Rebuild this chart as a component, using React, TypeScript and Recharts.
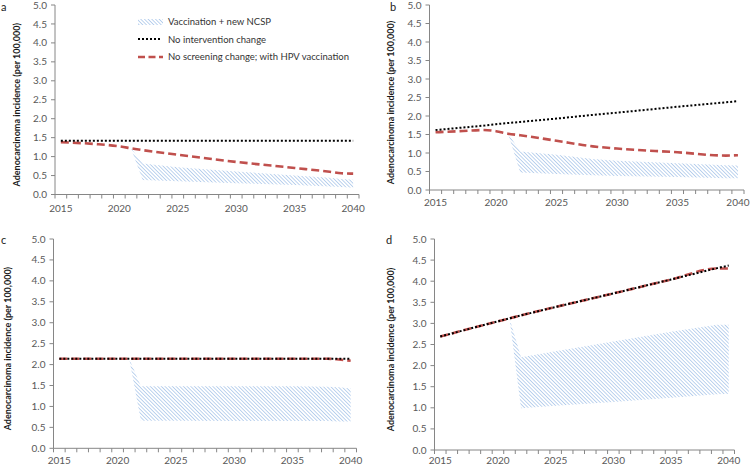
import React from 'react';
import { ComposedChart, Line, Area, XAxis, YAxis } from 'recharts';

const Y_TICKS = [0, 0.5, 1, 1.5, 2, 2.5, 3, 3.5, 4, 4.5, 5];
const ALL_YEARS = [2015, 2016, 2017, 2018, 2019, 2020, 2021, 2022, 2023, 2024, 2025, 2026, 2027, 2028, 2029, 2030, 2031, 2032, 2033, 2034, 2035, 2036, 2037, 2038, 2039, 2040];
const LABEL_YEARS = [2015, 2020, 2025, 2030, 2035, 2040];
const LEGEND_LABELS = ['Vaccination + new NCSP', 'No intervention change', 'No screening change; with HPV vaccination'];
const Y_TITLE = 'Adenocarcinoma incidence (per 100,000)';

// Panel a
const A_YEARS = [2015, 2018, 2020, 2021, 2022, 2025, 2030, 2035, 2038, 2039, 2040];
const A_NOINT = [1.42, 1.42, 1.42, 1.42, 1.42, 1.42, 1.42, 1.42, 1.42, 1.42, 1.42];
const A_RED = [1.38, 1.33, 1.27, 1.22, 1.17, 1.05, 0.86, 0.7, 0.6, 0.56, 0.55];
const A_LOW = [null, null, null, 1.22, 0.38, 0.35, 0.3, 0.25, 0.21, 0.2, 0.18];
const A_HIGH = [null, null, null, 1.22, 0.82, 0.72, 0.61, 0.5, 0.44, 0.41, 0.39];

// Panel b
const B_YEARS = [2015, 2017, 2019, 2020, 2021, 2022, 2025, 2028, 2030, 2035, 2039, 2040];
const B_NOINT = [1.62, 1.68, 1.74, 1.78, 1.81, 1.84, 1.93, 2.03, 2.09, 2.25, 2.37, 2.4];
const B_RED = [1.56, 1.59, 1.62, 1.59, 1.52, 1.48, 1.33, 1.18, 1.12, 1.02, 0.93, 0.94];
const B_LOW = [null, null, null, null, 1.52, 0.47, 0.43, 0.4, 0.38, 0.35, 0.32, 0.32];
const B_HIGH = [null, null, null, null, 1.52, 1.04, 0.95, 0.84, 0.79, 0.72, 0.67, 0.66];

// Panel c
const C_YEARS = [2015, 2020, 2021, 2022, 2025, 2030, 2035, 2038, 2039, 2040];
const C_NOINT = [2.14, 2.14, 2.14, 2.14, 2.14, 2.14, 2.14, 2.14, 2.14, 2.14];
const C_RED = [2.14, 2.14, 2.14, 2.14, 2.14, 2.14, 2.14, 2.14, 2.12, 2.09];
const C_LOW = [null, null, 2.14, 0.66, 0.66, 0.65, 0.65, 0.65, 0.64, 0.64];
const C_HIGH = [null, null, 2.14, 1.48, 1.48, 1.48, 1.48, 1.47, 1.46, 1.43];

// Panel d
const D_YEARS = [2015, 2020, 2021, 2022, 2025, 2030, 2035, 2039, 2040];
const D_NOINT = [2.69, 3.05, 3.12, 3.19, 3.39, 3.71, 4.04, 4.31, 4.37];
const D_RED = [2.69, 3.05, 3.12, 3.19, 3.39, 3.71, 4.04, 4.3, 4.3];
const D_LOW = [null, null, 3.12, 0.99, 1.05, 1.14, 1.24, 1.32, 1.33];
const D_HIGH = [null, null, 3.12, 2.2, 2.34, 2.57, 2.8, 2.97, 2.97];

const RED = '#C0504D';
const HATCH = '#8DB3E2';
const AXIS = '#868686';
const TICK_TEXT = '#595959';
const FONT = 'Lato, "Liberation Sans", sans-serif';

const X_TICKS = [...ALL_YEARS.map((y) => y - 0.5), ALL_YEARS[ALL_YEARS.length - 1] + 0.5, ...LABEL_YEARS].sort((p, q) => p - q);

type Num = number | null;

function buildRows(years: number[], noint: number[], red: number[], low: Num[], high: Num[]) {
  return years.map((yr, i) => ({
    year: yr,
    noint: noint[i],
    red: red[i],
    band: low[i] == null || high[i] == null ? null : [low[i], high[i]],
  }));
}

const makeXTick = (labelDy: number) => (props: any) => {
  const { x, y, payload } = props;
  const v = payload.value as number;
  if (v % 1 !== 0) {
    return <line x1={x} x2={x} y1={y} y2={y + 4} stroke={AXIS} strokeWidth={1} />;
  }
  if (LABEL_YEARS.includes(v)) {
    return (
      <text x={x} y={y + labelDy} textAnchor="middle" fill={TICK_TEXT} fontSize={10} fontFamily={FONT}>
        {v}
      </text>
    );
  }
  return <g />;
};

type PanelProps = {
  id: string;
  x0: number;
  y0: number;
  w: number;
  h: number;
  l: number;
  r: number;
  t: number;
  b: number;
  titleX: number;
  labelDy: number;
  rows: any[];
};

const Panel = ({ id, x0, y0, w, h, l, r, t, b, titleX, labelDy, rows }: PanelProps) => {
  const xAxisH = 20;
  const margin = { top: t - y0, right: x0 + w - r, left: 0, bottom: y0 + h - b - xAxisH };
  const ty = (t + b) / 2 - y0 + 5;
  const tx = titleX - x0;
  const TickComp = makeXTick(labelDy);
  return (
    <div style={{ position: 'absolute', left: x0, top: y0, width: w, height: h }}>
      <ComposedChart width={w} height={h} margin={margin} data={rows}>
        <defs>
          <pattern id={`hatch-${id}`} patternUnits="userSpaceOnUse" width={2.6} height={2.6} patternTransform="rotate(-45)">
            <line x1={0} y1={0} x2={0} y2={2.6} stroke={HATCH} strokeWidth={1.15} />
          </pattern>
        </defs>
        <XAxis
          dataKey="year"
          type="number"
          domain={[2014.5, 2040.5]}
          ticks={X_TICKS}
          interval={0}
          tickSize={0}
          tickMargin={0}
          tickLine={false}
          axisLine={{ stroke: AXIS }}
          tick={<TickComp />}
          height={xAxisH}
          allowDataOverflow
        />
        <YAxis
          type="number"
          domain={[0, 5]}
          ticks={Y_TICKS}
          interval={0}
          width={l - x0}
          tickSize={4}
          tickMargin={4}
          axisLine={{ stroke: AXIS }}
          tickLine={{ stroke: AXIS }}
          tick={{ fill: TICK_TEXT, fontSize: 10, fontFamily: FONT }}
          tickFormatter={(v: number) => v.toFixed(1)}
          label={{
            content: () => (
              <text
                transform={`translate(${tx},${ty}) rotate(-90)`}
                textAnchor="middle"
                dominantBaseline="central"
                fontSize={9}
                fontWeight="bold"
                fill="#1a1a1a"
                fontFamily={FONT}
              >
                {Y_TITLE}
              </text>
            ),
          }}
        />
        <Area
          dataKey="band"
          type="linear"
          stroke="none"
          fill={`url(#hatch-${id})`}
          fillOpacity={1}
          isAnimationActive={false}
          dot={false}
          activeDot={false}
        />
        <Line
          dataKey="red"
          type="monotone"
          stroke={RED}
          strokeWidth={2.6}
          strokeDasharray="8 4"
          dot={false}
          activeDot={false}
          isAnimationActive={false}
        />
        <Line
          dataKey="noint"
          type="linear"
          stroke="#000"
          strokeWidth={2}
          strokeDasharray="2 2"
          dot={false}
          activeDot={false}
          isAnimationActive={false}
        />
      </ComposedChart>
    </div>
  );
};

const LegendBox = () => (
  <div style={{ position: 'absolute', left: 138, top: 13, fontFamily: FONT, fontSize: 9.5, color: '#333' }}>
    {LEGEND_LABELS.map((lab, i) => (
      <div key={lab} style={{ display: 'flex', alignItems: 'center', height: 17.5 }}>
        <svg width={30} height={10} style={{ display: 'block' }}>
          <defs>
            <pattern id="hatch-legend" patternUnits="userSpaceOnUse" width={2.6} height={2.6} patternTransform="rotate(-45)">
              <line x1={0} y1={0} x2={0} y2={2.6} stroke={HATCH} strokeWidth={1.15} />
            </pattern>
          </defs>
          {i === 0 && <rect x={0} y={2} width={25} height={6} fill="url(#hatch-legend)" />}
          {i === 1 && <line x1={0} x2={24} y1={5} y2={5} stroke="#000" strokeWidth={2} strokeDasharray="2 2" />}
          {i === 2 && <line x1={0} x2={25} y1={5} y2={5} stroke={RED} strokeWidth={2.6} strokeDasharray="7 3.5" />}
        </svg>
        <span style={{ whiteSpace: 'nowrap' }}>{lab}</span>
      </div>
    ))}
  </div>
);

const Letter = ({ ch, x, y }: { ch: string; x: number; y: number }) => (
  <div style={{ position: 'absolute', left: x, top: y, fontFamily: FONT, fontSize: 11, color: '#222', lineHeight: '13px' }}>{ch}</div>
);

export default function App() {
  return (
    <div style={{ position: 'absolute', left: 0, top: 0, width: 750, height: 466, background: '#fff', overflow: 'hidden' }}>
      <Panel id="a" x0={0} y0={0} w={375} h={233} l={55} r={359} t={5} b={194.5} titleX={16} labelDy={17} rows={buildRows(A_YEARS, A_NOINT, A_RED, A_LOW, A_HIGH)} />
      <Panel id="b" x0={375} y0={0} w={375} h={233} l={429.5} r={744} t={5} b={190} titleX={390} labelDy={16} rows={buildRows(B_YEARS, B_NOINT, B_RED, B_LOW, B_HIGH)} />
      <Panel id="c" x0={0} y0={233} w={375} h={233} l={53.5} r={356.5} t={239} b={448.3} titleX={7} labelDy={15.5} rows={buildRows(C_YEARS, C_NOINT, C_RED, C_LOW, C_HIGH)} />
      <Panel id="d" x0={375} y0={233} w={375} h={233} l={434.5} r={734.5} t={239} b={450} titleX={390} labelDy={14} rows={buildRows(D_YEARS, D_NOINT, D_RED, D_LOW, D_HIGH)} />
      <LegendBox />
      <Letter ch="a" x={1} y={0} />
      <Letter ch="b" x={390} y={0} />
      <Letter ch="c" x={1} y={233} />
      <Letter ch="d" x={386} y={233} />
    </div>
  );
}
